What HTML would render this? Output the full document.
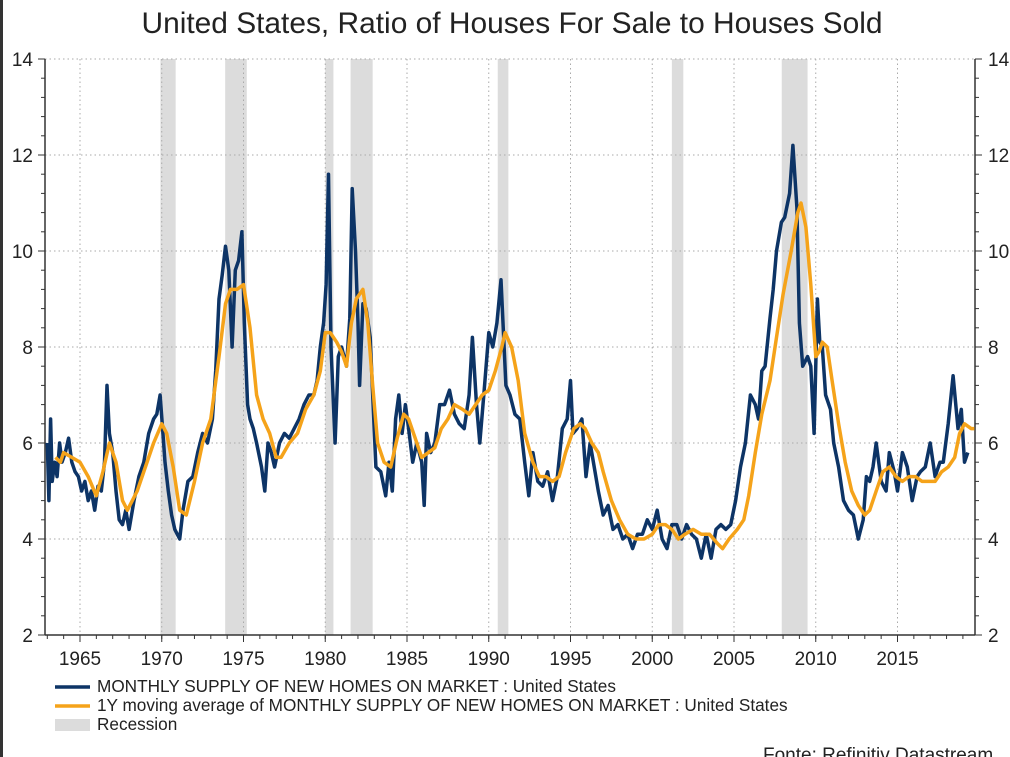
<!DOCTYPE html>
<html><head><meta charset="utf-8"><style>
body{margin:0;background:#fff;}
svg{display:block;font-family:"Liberation Sans",Arial,sans-serif;}
</style></head><body>
<svg id="chart" width="1010" height="757">
<rect x="0" y="0" width="1010" height="757" fill="#fff"/>
<rect x="0" y="0" width="3" height="757" fill="#333"/>
<text x="512" y="33" text-anchor="middle" font-size="29.9" fill="#222">United States, Ratio of Houses For Sale to Houses Sold</text>
<g id="recessions"></g><g id="grid"></g><g id="axes"></g><g id="series"></g>
<g>
<line x1="55" y1="687" x2="90" y2="687" stroke="#0d3466" stroke-width="3.5"/>
<text x="97" y="692" font-size="17.2" fill="#222">MONTHLY SUPPLY OF NEW HOMES ON MARKET : United States</text>
<line x1="55" y1="706" x2="90" y2="706" stroke="#f5a31a" stroke-width="3.5"/>
<text x="97" y="711" font-size="17.2" fill="#222">1Y moving average of MONTHLY SUPPLY OF NEW HOMES ON MARKET : United States</text>
<rect x="55" y="719" width="35" height="12" fill="#dcdcdc"/>
<text x="97" y="730" font-size="17.2" fill="#222">Recession</text>
</g>
<text x="763" y="761" font-size="19" fill="#222">Fonte: Refinitiv Datastream</text>
</svg>
<script>
const recStarts=[1969.92,1973.88,1980.0,1981.55,1990.55,2001.2,2007.92];
const recEnds=[1970.85,1975.2,1980.5,1982.9,1991.2,2001.9,2009.5];
const yTicks=[2,4,6,8,10,12,14];
const xTicks=[1965,1970,1975,1980,1985,1990,1995,2000,2005,2010,2015];
const supplyDates=[1963.0,1963.1,1963.2,1963.3,1963.45,1963.6,1963.75,1963.9,1964.1,1964.3,1964.5,1964.7,1964.9,1965.1,1965.3,1965.5,1965.7,1965.9,1966.1,1966.3,1966.5,1966.65,1966.8,1967.0,1967.2,1967.4,1967.6,1967.8,1968.0,1968.3,1968.6,1968.9,1969.2,1969.5,1969.7,1969.9,1970.05,1970.2,1970.4,1970.6,1970.8,1971.1,1971.3,1971.6,1971.9,1972.2,1972.5,1972.8,1973.1,1973.3,1973.5,1973.7,1973.9,1974.1,1974.3,1974.5,1974.7,1974.9,1975.05,1975.25,1975.4,1975.6,1975.8,1976.1,1976.3,1976.5,1976.7,1976.9,1977.2,1977.5,1977.8,1978.1,1978.4,1978.7,1979.0,1979.3,1979.5,1979.7,1979.9,1980.05,1980.2,1980.35,1980.6,1980.8,1981.0,1981.3,1981.5,1981.65,1981.85,1982.0,1982.1,1982.3,1982.5,1982.75,1982.9,1983.1,1983.4,1983.7,1983.9,1984.1,1984.3,1984.5,1984.7,1984.9,1985.1,1985.35,1985.6,1985.9,1986.05,1986.2,1986.45,1986.7,1987.0,1987.3,1987.6,1987.9,1988.2,1988.5,1988.8,1989.0,1989.25,1989.45,1989.7,1990.0,1990.25,1990.5,1990.75,1991.05,1991.3,1991.6,1991.9,1992.2,1992.45,1992.7,1993.0,1993.3,1993.6,1993.9,1994.2,1994.5,1994.8,1995.0,1995.15,1995.4,1995.7,1995.95,1996.2,1996.4,1996.7,1997.0,1997.3,1997.6,1997.9,1998.2,1998.5,1998.8,1999.1,1999.4,1999.7,2000.0,2000.3,2000.6,2000.9,2001.2,2001.5,2001.8,2002.1,2002.4,2002.7,2003.0,2003.3,2003.6,2003.9,2004.2,2004.5,2004.8,2005.1,2005.4,2005.7,2006.0,2006.3,2006.5,2006.7,2006.9,2007.2,2007.4,2007.6,2007.9,2008.1,2008.4,2008.6,2008.85,2009.0,2009.2,2009.5,2009.7,2009.9,2010.1,2010.25,2010.4,2010.6,2010.9,2011.1,2011.4,2011.7,2012.0,2012.3,2012.6,2012.9,2013.1,2013.3,2013.5,2013.7,2014.0,2014.3,2014.5,2014.8,2015.0,2015.3,2015.6,2015.9,2016.2,2016.4,2016.7,2017.0,2017.3,2017.6,2017.8,2018.1,2018.4,2018.7,2018.9,2019.1,2019.3,2019.5,2019.7];
const supplyValues=[6.0,4.8,6.5,5.2,5.6,5.3,6.0,5.6,5.8,6.1,5.6,5.4,5.3,5.0,5.2,4.8,5.0,4.6,5.1,5.0,5.6,7.2,6.2,5.8,5.0,4.4,4.3,4.6,4.2,4.8,5.3,5.6,6.2,6.5,6.6,7.0,6.3,5.6,5.0,4.5,4.2,4.0,4.6,5.2,5.3,5.8,6.2,6.0,6.5,7.5,9.0,9.5,10.1,9.6,8.0,9.6,9.8,10.4,8.5,6.8,6.5,6.3,6.0,5.5,5.0,6.0,5.8,5.5,6.0,6.2,6.1,6.3,6.5,6.8,7.0,7.0,7.3,8.0,8.5,9.3,11.6,8.0,6.0,7.8,8.0,7.6,8.6,11.3,10.0,8.5,7.2,8.9,8.8,8.2,7.0,5.5,5.4,4.9,5.6,5.0,6.5,7.0,6.2,6.8,6.3,5.6,6.0,5.6,4.7,6.2,5.8,6.0,6.8,6.8,7.1,6.6,6.4,6.3,7.0,8.2,6.8,6.0,7.0,8.3,8.0,8.5,9.4,7.2,7.0,6.6,6.5,5.6,4.9,5.8,5.2,5.1,5.4,4.8,5.3,6.3,6.5,7.3,6.2,6.3,6.5,5.3,6.0,5.6,5.0,4.5,4.7,4.2,4.3,4.0,4.1,3.8,4.1,4.1,4.4,4.2,4.6,4.0,3.8,4.3,4.3,4.0,4.3,4.1,4.0,3.6,4.1,3.6,4.2,4.3,4.2,4.3,4.8,5.5,6.0,7.0,6.8,6.5,7.5,7.6,8.6,9.2,10.0,10.6,10.7,11.2,12.2,10.9,8.5,7.6,7.8,7.6,6.2,9.0,8.1,8.0,7.0,6.7,6.0,5.5,4.8,4.6,4.5,4.0,4.4,5.3,5.2,5.5,6.0,5.2,5.0,5.8,5.4,5.0,5.8,5.5,4.8,5.3,5.4,5.5,6.0,5.3,5.6,5.6,6.4,7.4,6.3,6.7,5.6,5.8];
const maDates=[1963.5,1963.8,1964.0,1964.5,1965.0,1965.5,1966.0,1966.4,1966.8,1967.2,1967.6,1967.9,1968.5,1969.0,1969.5,1970.0,1970.3,1970.7,1971.1,1971.5,1972.0,1972.5,1973.0,1973.5,1973.9,1974.2,1974.6,1975.0,1975.4,1975.8,1976.2,1976.6,1977.0,1977.3,1977.8,1978.3,1978.8,1979.3,1979.7,1980.0,1980.3,1980.7,1981.0,1981.3,1981.6,1981.9,1982.3,1982.6,1982.9,1983.2,1983.6,1984.0,1984.4,1984.8,1985.1,1985.5,1985.9,1986.3,1986.7,1987.1,1987.5,1987.9,1988.4,1988.8,1989.2,1989.6,1990.0,1990.4,1990.8,1991.0,1991.4,1991.8,1992.2,1992.7,1993.1,1993.5,1993.9,1994.3,1994.7,1995.2,1995.6,1995.9,1996.3,1996.7,1997.0,1997.5,1998.0,1998.5,1999.0,1999.5,2000.0,2000.4,2000.8,2001.2,2001.6,2002.0,2002.5,2003.0,2003.5,2004.0,2004.3,2004.7,2005.2,2005.6,2005.9,2006.3,2006.7,2007.2,2007.6,2008.0,2008.5,2008.9,2009.1,2009.4,2009.7,2009.9,2010.0,2010.2,2010.4,2010.7,2011.0,2011.4,2011.8,2012.2,2012.6,2013.0,2013.3,2013.7,2014.1,2014.5,2014.9,2015.3,2015.7,2016.1,2016.5,2016.9,2017.3,2017.7,2018.1,2018.5,2018.8,2019.1,2019.5,2019.7];
const maValues=[5.7,5.6,5.8,5.7,5.6,5.3,4.9,5.4,6.0,5.6,4.8,4.6,5.0,5.5,6.0,6.4,6.2,5.5,4.6,4.5,5.2,6.0,6.5,7.8,8.9,9.2,9.2,9.3,8.4,7.0,6.5,6.2,5.7,5.7,6.0,6.2,6.7,7.0,7.5,8.3,8.3,8.1,7.9,7.6,8.5,9.0,9.2,8.5,7.2,6.0,5.6,5.5,6.1,6.6,6.5,6.1,5.7,5.8,5.9,6.3,6.5,6.8,6.7,6.6,6.8,7.0,7.1,7.5,8.0,8.3,8.0,7.3,6.2,5.6,5.3,5.3,5.2,5.3,5.8,6.3,6.4,6.3,6.0,5.8,5.4,4.8,4.4,4.1,4.0,4.0,4.1,4.3,4.3,4.2,4.0,4.1,4.2,4.1,4.1,3.9,3.8,4.0,4.2,4.4,4.9,5.8,6.6,7.3,8.2,9.1,10.0,10.8,11.0,10.5,9.3,8.3,7.8,7.9,8.1,8.0,7.3,6.4,5.6,5.0,4.7,4.5,4.6,5.0,5.4,5.5,5.3,5.2,5.3,5.3,5.2,5.2,5.2,5.4,5.5,5.7,6.2,6.4,6.3,6.3];

const NS='http://www.w3.org/2000/svg';
const L=45,R=975,T=59,B=635;
function xS(t){return 80+(t-1965)*16.35;}
function yS(v){return B-(v-2)*48;}
function mk(tag,attrs,parent){const e=document.createElementNS(NS,tag);for(const k in attrs)e.setAttribute(k,attrs[k]);parent.appendChild(e);return e;}
const gRec=document.getElementById('recessions'),gGrid=document.getElementById('grid'),gAx=document.getElementById('axes'),gS=document.getElementById('series');
recStarts.forEach((s,i)=>{
  const r=mk('rect',{x:xS(s),y:T,width:xS(recEnds[i])-xS(s),height:B-T,fill:'#dcdcdc'},gRec);
  
  
});
yTicks.forEach(v=>{
  if(v>2){const g=mk('line',{x1:L,x2:R,y1:yS(v),y2:yS(v),stroke:'#aaa','stroke-dasharray':'1.5,3'},gGrid);
  
  }
  const t1=mk('text',{x:33,y:yS(v)+7,'text-anchor':'end','font-size':19,fill:'#222'},gAx);t1.textContent=v;
  
  
  const t2=mk('text',{x:988,y:yS(v)+7,'font-size':19,fill:'#222'},gAx);t2.textContent=v;
  
  
  mk('line',{x1:L-7,x2:L,y1:yS(v),y2:yS(v),stroke:'#333'},gAx);
  mk('line',{x1:R,x2:R+7,y1:yS(v),y2:yS(v),stroke:'#333'},gAx);
});
for(let v=2;v<14;v+=0.4){mk('line',{x1:L-4,x2:L,y1:yS(v),y2:yS(v),stroke:'#333'},gAx);mk('line',{x1:R,x2:R+4,y1:yS(v),y2:yS(v),stroke:'#333'},gAx);}
xTicks.forEach(t=>{
  const g=mk('line',{x1:xS(t),x2:xS(t),y1:T,y2:B,stroke:'#aaa','stroke-dasharray':'1.5,3'},gGrid);
  
  
  mk('line',{x1:xS(t),x2:xS(t),y1:B,y2:B+7,stroke:'#333'},gAx);
  const tx=mk('text',{x:xS(t),y:B+30,'text-anchor':'middle','font-size':19,fill:'#222'},gAx);tx.textContent=t;
  
  
});
for(let t=1963;t<=2019;t++)mk('line',{x1:xS(t),x2:xS(t),y1:B,y2:B+4,stroke:'#333'},gAx);
mk('line',{x1:L,x2:L,y1:T,y2:B,stroke:'#333','stroke-width':1.5},gAx);
mk('line',{x1:R,x2:R,y1:T,y2:B,stroke:'#333','stroke-width':1.5},gAx);
mk('line',{x1:L,x2:R,y1:B,y2:B,stroke:'#333','stroke-width':1.5},gAx);
function path(ds,vs,col,w,name){
  const d=ds.map((t,i)=>(i?'L':'M')+xS(t).toFixed(1)+','+yS(vs[i]).toFixed(1)).join('');
  const p=mk('path',{d:d,fill:'none',stroke:col,'stroke-width':w,'stroke-linejoin':'round'},gS);
  
  
}
path(supplyDates,supplyValues,'#0d3466',3.5,'series-monthly-supply');
path(maDates,maValues,'#f5a31a',3.5,'series-moving-average');
</script>
</body></html>
